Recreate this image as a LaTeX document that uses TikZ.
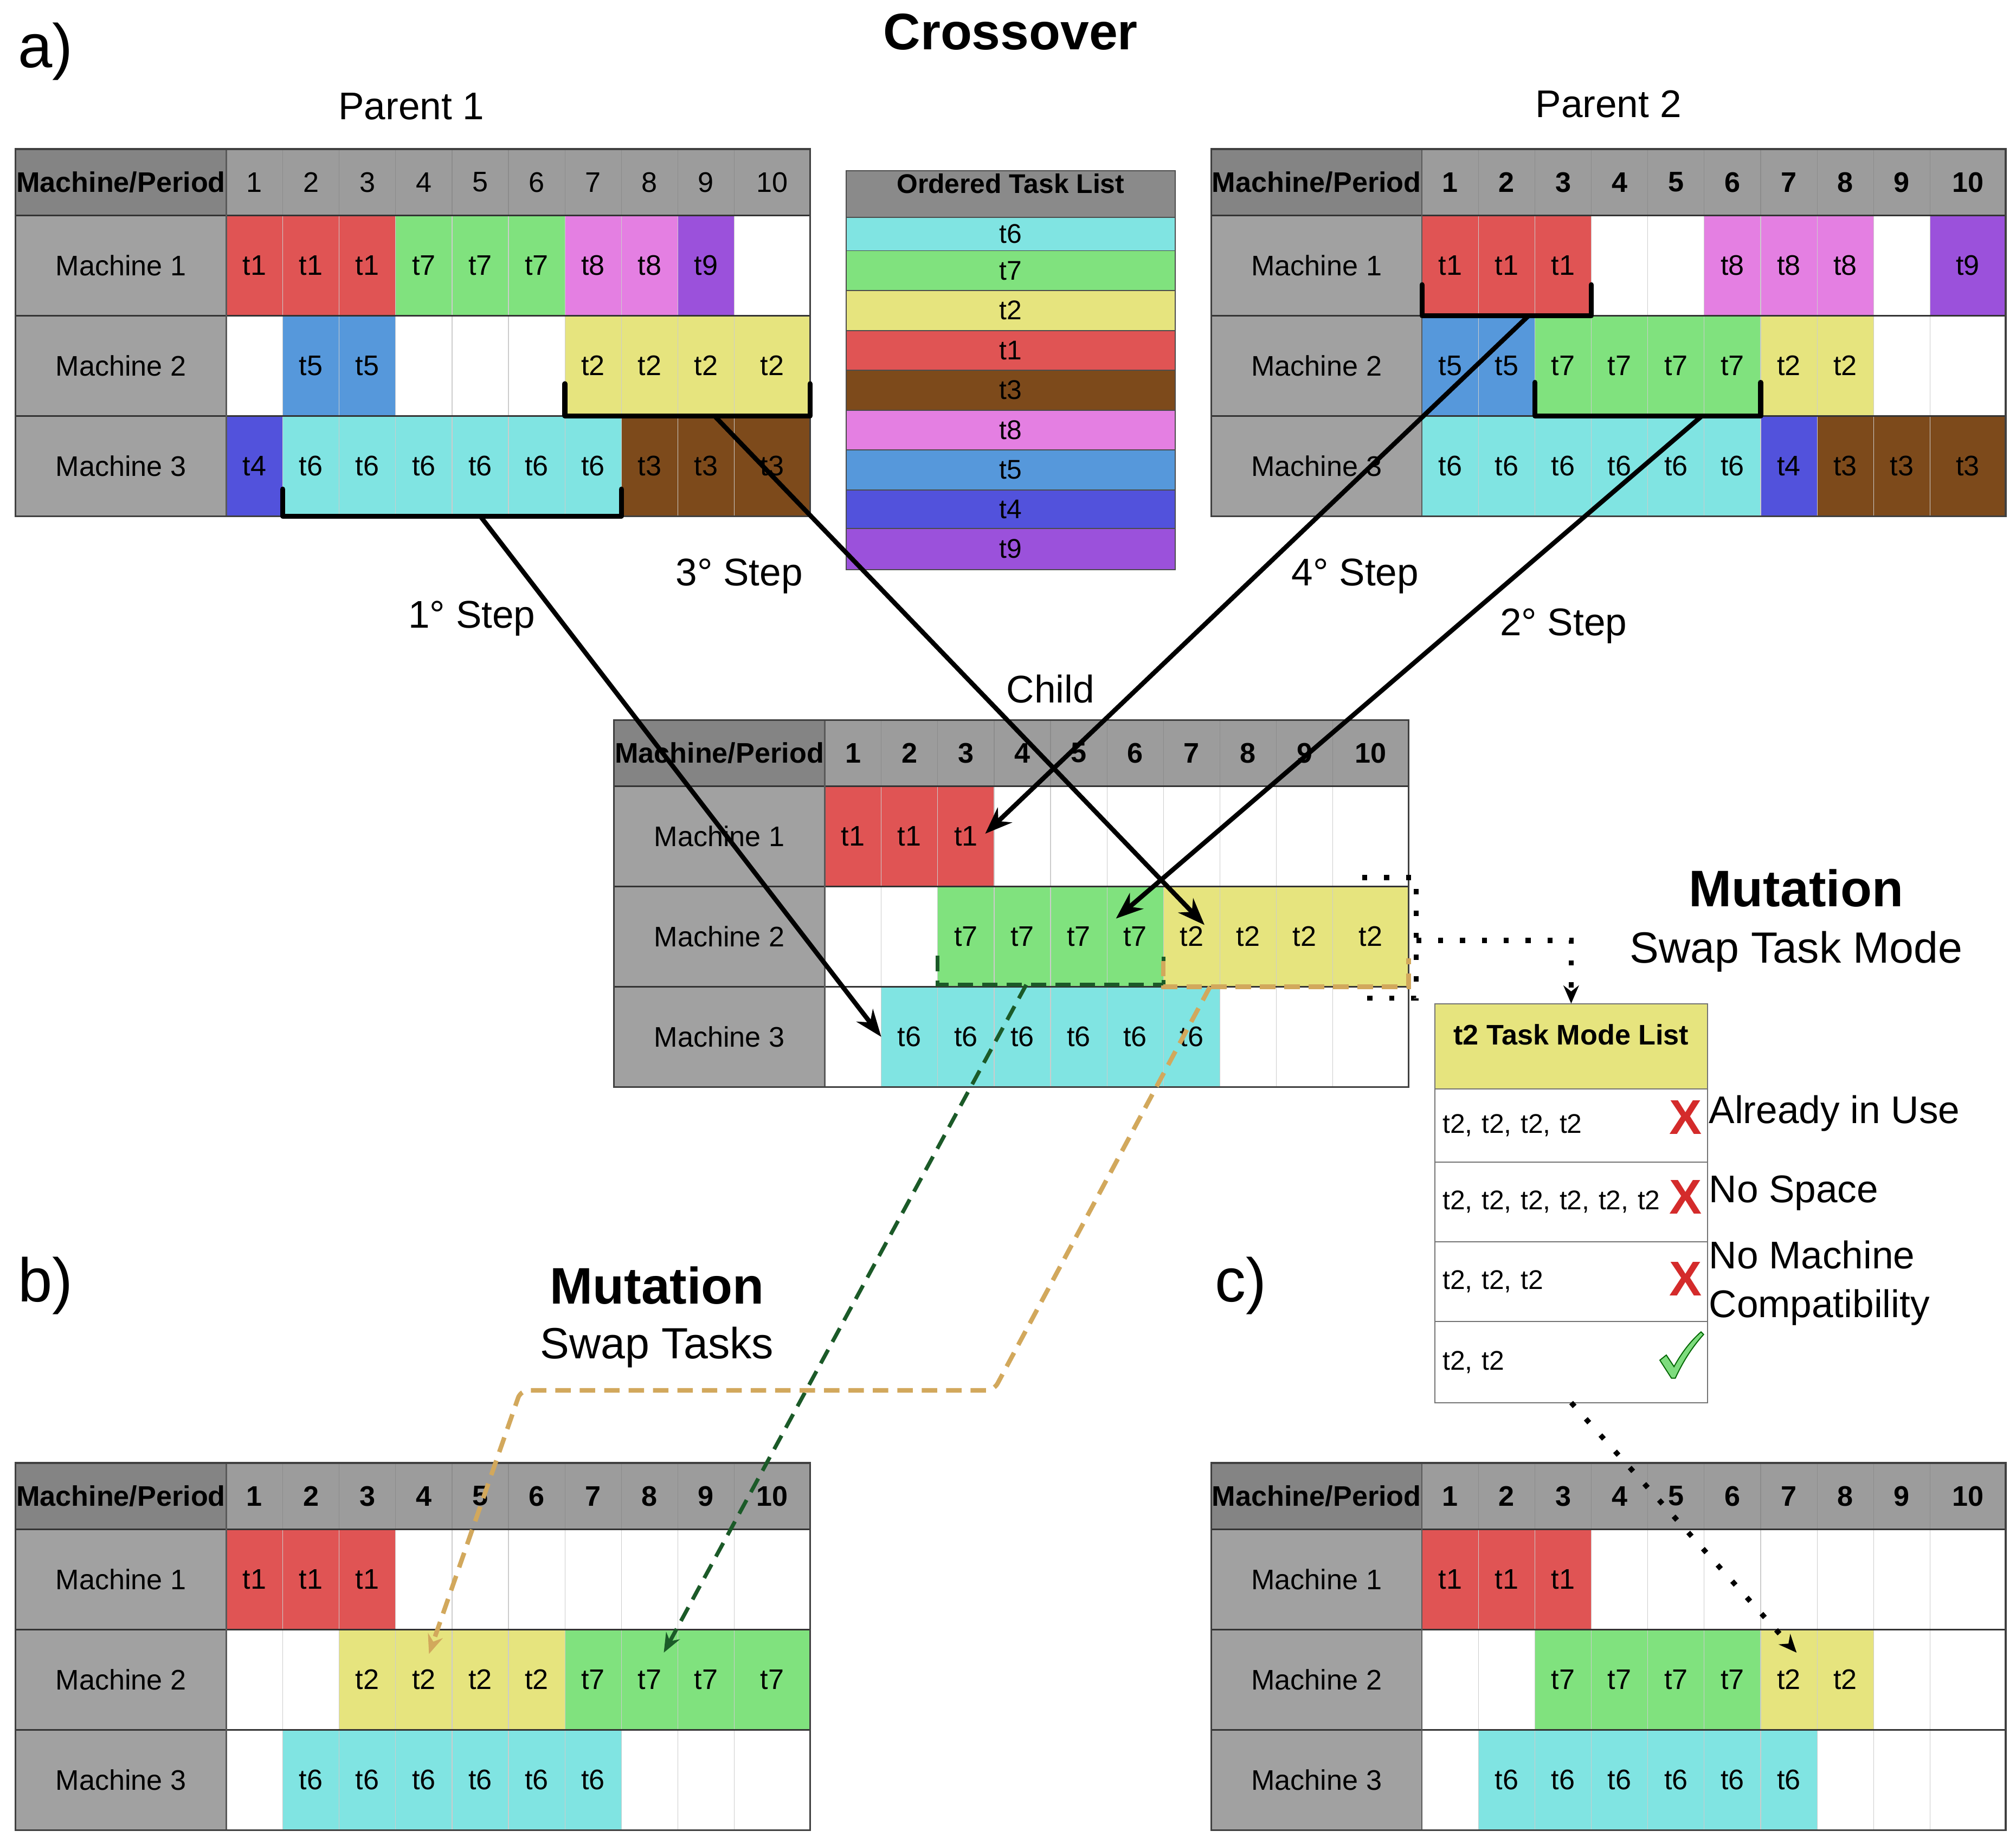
\documentclass[tikz,border=0pt]{standalone}
\usepackage{fontspec}
\setmainfont{Liberation Sans}
\usetikzlibrary{arrows.meta,calc}
\definecolor{tk0}{HTML}{FFFFFF}
\definecolor{tk1}{HTML}{E05454}
\definecolor{tk2}{HTML}{E6E47E}
\definecolor{tk3}{HTML}{7D4A1B}
\definecolor{tk4}{HTML}{5252DC}
\definecolor{tk5}{HTML}{5698DB}
\definecolor{tk6}{HTML}{80E4E2}
\definecolor{tk7}{HTML}{80E27E}
\definecolor{tk8}{HTML}{E47FE2}
\definecolor{tk9}{HTML}{9B51DB}
\definecolor{hlab}{HTML}{848484}
\definecolor{hnum}{HTML}{9C9C9C}
\definecolor{rlab}{HTML}{A1A1A1}
\definecolor{otlgray}{HTML}{8A8A8A}
\definecolor{tanc}{HTML}{D2A85C}
\definecolor{dkgreen}{HTML}{1B5A28}
\definecolor{xred}{HTML}{D42B2B}
\definecolor{chkgreen}{HTML}{7EDC7E}
\newcommand\fsz[1]{\fontsize{#1}{#1}\selectfont}
\tikzset{
  cell/.style={rectangle, inner sep=0pt, outer sep=0pt, draw=black!20, line width=0.5pt,
    minimum height=78pt, font=\fsz{22}},
  hdrnum/.style={cell, fill=hnum, minimum height=51.5pt, draw=black!45},
  hdrlab/.style={cell, fill=hlab, minimum height=51.5pt, minimum width=164pt, draw=black!45,
    font=\bfseries\fsz{22}},
  rowlab/.style={cell, fill=rlab, minimum width=164pt, draw=black!40},
  rowline/.style={line width=1.4pt, black!80},
  frame/.style={line width=1.4pt, black!75},
  sepline/.style={line width=1pt, black!65},
  otlrow/.style={rectangle, inner sep=0pt, outer sep=0pt, minimum width=256pt, draw=black!70,
    line width=0.8pt, font=\fsz{21}},
  tmrow/.style={rectangle, inner sep=0pt, inner xsep=6pt, outer sep=0pt, minimum width=212pt,
    text width=200pt, align=left, draw=black!55, line width=0.8pt, fill=white, font=\fsz{21}},
  title/.style={font=\fsz{30}, inner sep=0pt},
  bigtitle/.style={font=\bfseries\fsz{40}, inner sep=0pt},
  subtitle/.style={font=\fsz{34}, inner sep=0pt},
  panel/.style={font=\fsz{48}, inner sep=0pt, anchor=west},
  reason/.style={font=\fsz{30}, inner sep=0pt, anchor=west},
  xmark/.style={font=\bfseries\fsz{38}, text=xred, inner sep=0pt},
  brk/.style={line width=4pt, line join=round, line cap=round},
  stepline/.style={line width=3.6pt, -{Stealth[length=21pt,width=16pt]}},
  greendash/.style={dkgreen, line width=3pt, dash pattern=on 12pt off 7pt},
  tandash/.style={tanc, line width=3.5pt, dash pattern=on 12pt off 7pt},
  dotln/.style={line width=4pt, dash pattern=on 4pt off 13pt},
}
\newcommand\ganttrow[3]{%
  \pgfmathsetmacro\cy{\gT+51.5+#2*78-39}%
  \node[rowlab] (#1-m#2) at (\gL+82,\cy) {Machine #2};
  \foreach \v [count=\c] in {#3}{%
    \pgfmathsetmacro\cx{\gL+164+(\c<10 ? (\c-0.5)*43.9 : 9*43.9+29.45)}%
    \pgfmathsetmacro\cw{\c<10 ? 43.9 : 58.9}%
    \node[cell, fill=tk\v, minimum width=\cw pt] (#1-#2-\c) at (\cx,\cy) {\ifnum\v>0 t\v\fi};
  }%
}
\newcommand\gantttable[7]{%
  \pgfmathsetmacro\gL{#2}\pgfmathsetmacro\gT{#3}%
  \node[hdrlab] (#1-h0) at (\gL+82,\gT+25.75) {Machine/Period};
  \foreach \c in {1,...,10}{%
    \pgfmathsetmacro\cx{\gL+164+(\c<10 ? (\c-0.5)*43.9 : 9*43.9+29.45)}%
    \pgfmathsetmacro\cw{\c<10 ? 43.9 : 58.9}%
    \node[hdrnum, minimum width=\cw pt] (#1-h\c) at (\cx,\gT+25.75) {#4\c};
  }%
  \ganttrow{#1}{1}{#5}\ganttrow{#1}{2}{#6}\ganttrow{#1}{3}{#7}%
  \draw[rowline] (#1-h0.south west) -- (#1-h10.south east);
  \draw[rowline] (#1-m1.south west) -- (#1-1-10.south east);
  \draw[rowline] (#1-m2.south west) -- (#1-2-10.south east);
  \draw[sepline] (#1-h0.north east) -- (#1-m3.south east);
  \draw[frame] (#1-h0.north west) rectangle (#1-3-10.south east);
}
\begin{document}
\begin{tikzpicture}[x=1pt,y=-1pt]
\useasboundingbox (0,0) rectangle (1568,1434);

% ---------- titles ----------
\node[panel] (lab-a) at (14,40) {a)};
\node[bigtitle] (crossover) at (786,25) {Crossover};
\node[title] (par1) at (320,83) {Parent 1};
\node[title] (par2) at (1251,81) {Parent 2};
\node[title] (child) at (817,536) {Child};

% ---------- tables ----------
\gantttable{p1}{12}{116}{}{1,1,1,7,7,7,8,8,9,0}{0,5,5,0,0,0,2,2,2,2}{4,6,6,6,6,6,6,3,3,3}
\gantttable{p2}{942}{116}{\bfseries}{1,1,1,0,0,8,8,8,0,9}{5,5,7,7,7,7,2,2,0,0}{6,6,6,6,6,6,4,3,3,3}
\gantttable{ch}{477.5}{560}{\bfseries}{1,1,1,0,0,0,0,0,0,0}{0,0,7,7,7,7,2,2,2,2}{0,6,6,6,6,6,6,0,0,0}
\gantttable{b}{12}{1138}{\bfseries}{1,1,1,0,0,0,0,0,0,0}{0,0,2,2,2,2,7,7,7,7}{0,6,6,6,6,6,6,0,0,0}
\gantttable{c}{942}{1138}{\bfseries}{1,1,1,0,0,0,0,0,0,0}{0,0,7,7,7,7,2,2,0,0}{0,6,6,6,6,6,6,0,0,0}

% ---------- ordered task list ----------
\node[otlrow, fill=otlgray, minimum height=36pt] (otl-h) at (786,151) {};
\node[font=\bfseries\fsz{21}, inner sep=0pt] (otl-ht) at (786,143) {Ordered Task List};
\foreach \t/\ya/\yb [count=\i] in {6/169/195, 7/195/226, 2/226/257, 1/257/288, 3/288/319,
    8/319/350, 5/350/381, 4/381/411, 9/411/443}{%
  \pgfmathsetmacro\oh{\yb-\ya}%
  \node[otlrow, fill=tk\t, minimum height=\oh pt] (otl-\i) at (786,{(\ya+\yb)/2}) {t\t};
}

% ---------- crossover brackets ----------
\draw[brk] ($(p1-3-2.south west)+(0,-21)$) -- (p1-3-2.south west) -- (p1-3-7.south east) -- ++(0,-21);
\draw[brk] ($(p1-2-7.south west)+(0,-25)$) -- (p1-2-7.south west) -- (p1-2-10.south east) -- ++(0,-25);
\draw[brk] ($(p2-1-1.south west)+(0,-24)$) -- (p2-1-1.south west) -- (p2-1-3.south east) -- ++(0,-24);
\draw[brk] ($(p2-2-3.south west)+(0,-26)$) -- (p2-2-3.south west) -- (p2-2-6.south east) -- ++(0,-26);

\coordinate (s1) at (p1-3-5.south);
\coordinate (s3) at ($(p1-2-7.south west)!0.61!(p1-2-10.south east)$);
\coordinate (s4) at ($(p2-1-1.south west)!0.63!(p2-1-3.south east)$);
\coordinate (s2) at ($(p2-2-3.south west)!0.74!(p2-2-6.south east)$);
\coordinate (e1) at (ch-3-2.west);
\coordinate (e3) at ($(ch-2-7.center)+(10,-9)$);
\coordinate (e4) at ($(ch-1-3.center)+(15,-2)$);
\coordinate (e2) at ($(ch-2-6.center)+(-15,-14)$);

\draw[stepline] (s1) -- (e1);
\draw[stepline] (s3) -- (e3);
\draw[stepline] (s4) -- (e4);
\draw[stepline] (s2) -- (e2);

\node[title] (st1) at (367,481) {1° Step};
\node[title] (st3) at (575,448) {3° Step};
\node[title] (st4) at (1054,448) {4° Step};
\node[title] (st2) at (1216,487) {2° Step};

% ---------- swap tasks mutation ----------
\node[panel] (lab-b) at (14,1000) {b)};
\node[bigtitle] (mut-b) at (511,1000) {Mutation};
\node[subtitle] (swap-b) at (511,1048) {Swap Tasks};

\draw[greendash] ($(ch-2-3.south west)+(0,-24)$) -- ($(ch-2-3.south west)+(0,-1.5)$) -- ($(ch-2-6.south east)+(0,-1.5)$) -- ++(0,-22);
\draw[tandash] ($(ch-2-7.south west)+(0,-20)$) -- (ch-2-7.south west) -- (ch-2-10.south east) -- ++(0,-22);

\coordinate (gs) at ($(ch-2-4.south)+(3,-1.5)$);
\coordinate (ge) at ($(b-2-8.center)+(11,-21)$);
\draw[greendash, -{Stealth[length=15pt,width=12pt]}] (gs) -- (ge);

\coordinate (ts) at ($(ch-2-7.south west)!0.19!(ch-2-10.south east)$);
\coordinate (tc1) at (773,1081.5);
\coordinate (tc2) at (405,1081.5);
\coordinate (te) at ($(b-2-4.center)+(4,-20)$);
\draw[tandash, rounded corners=6pt, -{Stealth[length=15pt,width=12pt]}] (ts) -- (tc1) -- (tc2) -- (te);

% ---------- swap task mode mutation ----------
\node[panel] (lab-c) at (945,1000) {c)};
\node[bigtitle] (mut-c) at (1397,691) {Mutation};
\node[subtitle] (swap-c) at (1397,740) {Swap Task Mode};

\node[rectangle, draw=black!55, line width=0.8pt, fill=tk2, minimum width=212pt, minimum height=66pt, inner sep=0pt] (tm-h) at (1222,814) {};
\node[font=\bfseries\fsz{22}, inner sep=0pt] (tm-ht) at (1222,805) {t2 Task Mode List};
\node[tmrow, minimum height=57pt] (tm-1) at (1222,875.5) {t2, t2, t2, t2};
\node[tmrow, minimum height=62pt] (tm-2) at (1222,935) {t2, t2, t2, t2, t2, t2};
\node[tmrow, minimum height=62pt] (tm-3) at (1222,997) {t2, t2, t2};
\node[tmrow, minimum height=63pt] (tm-4) at (1222,1059.5) {t2, t2};

\node[xmark] (x1) at (1311,869) {X};
\node[xmark] (x2) at (1311,931) {X};
\node[xmark] (x3) at (1311,995) {X};
\draw[fill=chkgreen, draw=green!40!black, line width=0.8pt]
  (1291,1058) -- (1296,1054) -- (1302,1063) .. controls (1308,1052) and (1315,1043) .. (1323,1036)
  -- (1325,1038) .. controls (1316,1048) and (1309,1059) .. (1303,1072) -- (1300,1072) -- cycle;

\node[reason] (r1) at (1329,866) {Already in Use};
\node[reason] (r2) at (1329,928) {No Space};
\node[reason, align=left, font=\fontsize{30}{38}\selectfont] (r3) at (1329,998) {No Machine\\Compatibility};

% dotted selection and arrows
\draw[dotln] ($(ch-2-10.north east)+(-36,-7)$) -- ($(ch-2-10.north east)+(6,-7)$)
  -- ($(ch-2-10.south east)+(6,9)$) -- ($(ch-2-10.south east)+(-41,9)$);
\coordinate (ds) at ($(ch-2-10.east)+(6,3)$);
\draw[dotln, -{Stealth[length=14pt,width=12pt]}] (ds) -| (tm-h.north);
\coordinate (de) at ($(c-2-7.center)+(6,-21)$);
\draw[dotln, -{Stealth[length=14pt,width=12pt]}] (tm-4.south) -- (de);

\end{tikzpicture}
\end{document}
